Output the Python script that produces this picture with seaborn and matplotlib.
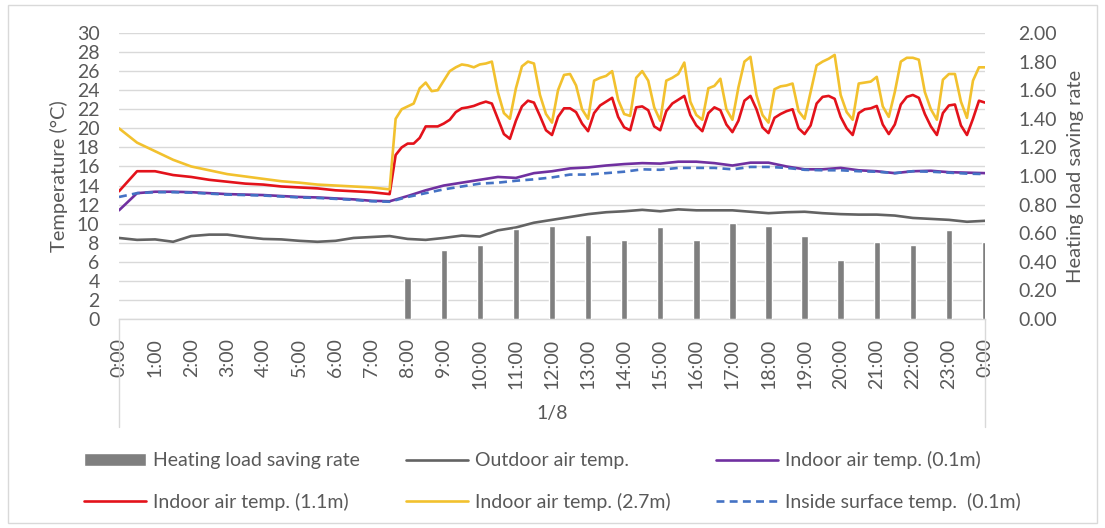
import numpy as np
import matplotlib.pyplot as plt
import seaborn as sns
from matplotlib.patches import Rectangle
from matplotlib.ticker import MultipleLocator

# time axes (hours on 1/8)
hours_half = np.arange(0, 24.01, 0.5)
t_fine = np.concatenate([np.arange(0, 7.01, 0.5), 7.5 + np.arange(100) / 6])
bar_hours = np.arange(8, 25)

outdoor = [8.5, 8.3, 8.35, 8.1, 8.7, 8.85, 8.85, 8.6, 8.4, 8.35, 8.2, 8.1, 8.2, 8.5, 8.6, 8.7,
           8.4, 8.3, 8.5, 8.75, 8.65, 9.3, 9.6, 10.1, 10.4, 10.7, 11.0, 11.2, 11.3, 11.45, 11.3, 11.5,
           11.4, 11.4, 11.4, 11.25, 11.1, 11.2, 11.25, 11.1, 11.0, 10.95, 10.95, 10.85, 10.6, 10.5,
           10.4, 10.2, 10.3]
indoor_01 = [11.4, 13.2, 13.35, 13.35, 13.3, 13.2, 13.1, 13.05, 13.0, 12.9, 12.8, 12.75, 12.65, 12.55,
             12.4, 12.35, 12.9, 13.5, 14.0, 14.3, 14.6, 14.9, 14.8, 15.3, 15.5, 15.8, 15.9, 16.1, 16.25,
             16.35, 16.3, 16.5, 16.5, 16.35, 16.1, 16.4, 16.4, 16.0, 15.7, 15.7, 15.85, 15.6, 15.5, 15.3,
             15.5, 15.55, 15.4, 15.35, 15.3]
surface_01 = [12.8, 13.2, 13.3, 13.3, 13.25, 13.15, 13.05, 13.0, 12.95, 12.85, 12.75, 12.7, 12.6, 12.5,
              12.35, 12.3, 12.8, 13.2, 13.6, 13.9, 14.2, 14.3, 14.5, 14.65, 14.85, 15.15, 15.15, 15.3,
              15.45, 15.7, 15.65, 15.85, 15.85, 15.85, 15.7, 15.95, 15.95, 15.85, 15.65, 15.6, 15.6, 15.5,
              15.45, 15.3, 15.5, 15.45, 15.35, 15.25, 15.2]

indoor_11 = [13.4, 15.5, 15.5, 15.1, 14.9, 14.6, 14.4, 14.2, 14.1, 13.9, 13.8, 13.7, 13.5, 13.4, 13.3,
             13.1, 17.2, 18.0,
             18.4, 18.4, 19.0, 20.2, 20.2, 20.2,
             20.5, 20.9, 21.7, 22.1, 22.2, 22.35,
             22.6, 22.8, 22.6, 21.0, 19.4, 18.9,
             20.8, 22.3, 22.9, 22.7, 21.3, 19.8,
             19.3, 21.2, 22.1, 22.1, 21.7, 20.5,
             19.7, 21.6, 22.4, 22.8, 23.2, 21.2,
             20.1, 19.8, 22.2, 22.3, 21.9, 20.2,
             19.8, 21.8, 22.6, 23.0, 23.4, 21.4,
             20.3, 19.7, 21.6, 22.2, 21.9, 20.4,
             19.6, 20.8, 22.9, 23.4, 22.0, 20.1,
             19.5, 21.1, 21.5, 21.8, 22.0, 20.0,
             19.4, 20.3, 22.6, 23.3, 23.4, 23.1,
             21.2, 20.0, 19.3, 21.6, 22.0, 22.1,
             22.35, 20.4, 19.4, 20.4, 22.5, 23.3,
             23.5, 23.2, 21.5, 20.2, 19.3, 21.6,
             22.4, 22.5, 20.3, 19.3, 21.0, 22.9,
             22.7]
indoor_27 = [20.0, 18.5, 17.6, 16.7, 16.0, 15.6, 15.2, 14.95, 14.7, 14.45, 14.3, 14.1, 14.0, 13.9, 13.8,
             13.6, 21.0, 22.0,
             22.3, 22.6, 24.2, 24.8, 23.9, 24.0,
             25.0, 26.0, 26.4, 26.7, 26.6, 26.4,
             26.7, 26.8, 27.0, 23.8, 21.6, 21.0,
             24.2, 26.5, 27.0, 26.8, 23.5, 21.5,
             20.6, 24.0, 25.6, 25.7, 24.5, 22.0,
             21.0, 25.0, 25.3, 25.5, 26.0, 23.0,
             21.5, 21.3, 25.3, 26.0, 25.0, 22.2,
             20.8, 25.0, 25.3, 25.7, 26.9, 22.8,
             21.4, 20.9, 24.2, 24.45, 25.2, 22.0,
             20.9, 24.3, 27.0, 27.5, 23.5, 21.4,
             20.6, 24.1, 24.4, 24.5, 24.7, 21.8,
             21.0, 23.8, 26.6, 27.0, 27.3, 27.7,
             23.5, 21.7, 20.9, 24.7, 24.8, 24.9,
             25.4, 22.3, 21.2, 23.8, 27.0, 27.4,
             27.4, 27.2, 23.8, 22.0, 20.9, 25.1,
             25.7, 25.7, 22.8, 21.1, 25.0, 26.4,
             26.4]

saving_rate = [0.29, 0.48, 0.52, 0.63, 0.65, 0.59, 0.55, 0.64, 0.55, 0.67, 0.65, 0.58, 0.41, 0.54,
               0.52, 0.62, 0.54]

hour_labels = [f"{h % 24}:00" for h in range(25)]

sns.set_theme(style="white")
plt.rcParams['font.family'] = ['Lato', 'DejaVu Sans']
txt = '#595959'
fs = 14

fig = plt.figure(figsize=(11.05, 5.28), dpi=100)
ax = fig.add_axes([119 / 1105, 1 - 319 / 528, 866 / 1105, 286 / 528])
ax2 = ax.twinx()

# bars on secondary axis
ax2.bar(bar_hours, saving_rate, width=0.18, color='#7f7f7f', label='Heating load saving rate')

lw = 1.9
sns.lineplot(x=hours_half, y=outdoor, ax=ax, color='#636363', linewidth=lw, label='Outdoor air temp.')
sns.lineplot(x=hours_half, y=indoor_01, ax=ax, color='#7030A0', linewidth=lw, label='Indoor air temp. (0.1m)')
sns.lineplot(x=t_fine, y=indoor_11, ax=ax, color='#E3121B', linewidth=lw, label='Indoor air temp. (1.1m)')
sns.lineplot(x=t_fine, y=indoor_27, ax=ax, color='#F2C12E', linewidth=lw, label='Indoor air temp. (2.7m)')
sns.lineplot(x=hours_half, y=surface_01, ax=ax, color='#4472C4', linewidth=lw,
             linestyle=(0, (3, 2)), label='Inside surface temp.  (0.1m)')

ax.set_xlim(0, 24)
ax.set_ylim(0, 30)
ax2.set_ylim(0, 2)
ax.set_yticks(np.arange(0, 31, 2))
ax2.set_yticks(np.arange(0, 2.01, 0.2))
ax2.set_yticklabels([f"{v:.2f}" for v in np.arange(0, 2.01, 0.2)])
ax.set_xticks(range(25))
ax.set_xticklabels(hour_labels, rotation=90)
ax.xaxis.set_minor_locator(MultipleLocator(1 / 8))

ax.grid(axis='y', color='#D9D9D9', linewidth=1)
ax.grid(axis='x', visible=False)
ax2.grid(False)
for s in ['top', 'left', 'right']:
    ax.spines[s].set_visible(False)
for s in ax2.spines.values():
    s.set_visible(False)
ax.spines['bottom'].set_color('#D9D9D9')
ax.spines['bottom'].set_linewidth(1)

ax.tick_params(axis='y', length=0, pad=14, labelsize=fs, labelcolor=txt)
ax2.tick_params(axis='y', length=0, pad=24, labelsize=fs, labelcolor=txt)
ax.tick_params(axis='x', which='both', direction='in', length=3, color='#BFBFBF',
               labelsize=fs, labelcolor=txt, pad=14)
ax.set_xlabel('')
ax.set_ylabel('Temperature (°C)', fontsize=14.5, color=txt, labelpad=6)
ax2.set_ylabel('Heating load saving rate', fontsize=14.5, color=txt, labelpad=7)

# category group separators and date label
for xa in (0, 1):
    ax.plot([xa, xa], [0, -108 / 286], transform=ax.transAxes, color='#D9D9D9',
            linewidth=1, clip_on=False)
fig.text(552 / 1105, 1 - 413 / 528, '1/8', ha='center', va='center', fontsize=fs, color=txt)

# legend in row-major order
h1, l1 = ax.get_legend_handles_labels()
h2, l2 = ax2.get_legend_handles_labels()
ax.get_legend().remove()
handles = h2 + h1
labels = l2 + l1
order = [0, 3, 1, 4, 2, 5]
fig.legend([handles[i] for i in order], [labels[i] for i in order], ncol=3, loc='center',
           bbox_to_anchor=(0.5, 1 - 481 / 528), frameon=False, fontsize=fs,
           handlelength=3.2, handletextpad=0.35, columnspacing=2.35, labelspacing=1.2,
           labelcolor=txt)

fig.patches.append(Rectangle((8 / 1105, 5 / 528), 1089 / 1105, 518 / 528, transform=fig.transFigure,
                             fill=False, edgecolor='#D9D9D9', linewidth=1))

fig.savefig('out.png', dpi=100)
